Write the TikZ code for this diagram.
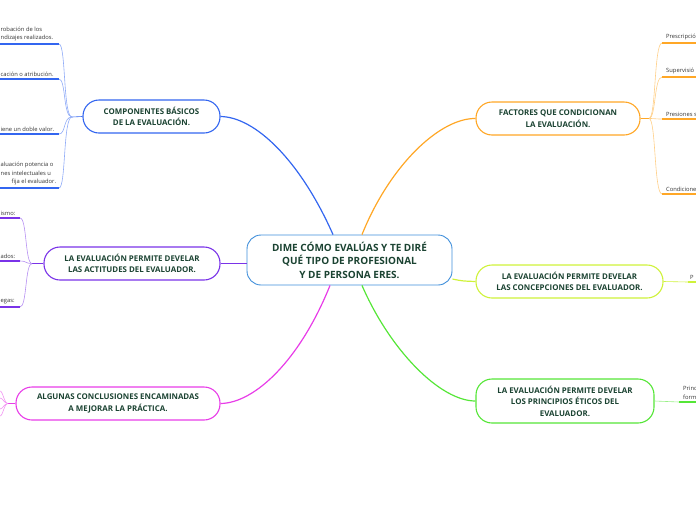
\documentclass[tikz,border=0pt]{standalone}
\usepackage{fontspec}
\setmainfont{Open Sans}
\usetikzlibrary{calc}
\definecolor{tcol}{HTML}{1B4332}
\definecolor{leafcol}{HTML}{333333}
\definecolor{cblue}{HTML}{3F8FDB}
\definecolor{bblue}{HTML}{3366F0}
\definecolor{bpurp}{HTML}{7A33E8}
\definecolor{bmag}{HTML}{E83DE8}
\definecolor{borg}{HTML}{FFA726}
\definecolor{bylw}{HTML}{CFF23A}
\definecolor{bgrn}{HTML}{55E637}
\begin{document}
\begin{tikzpicture}[x=1pt,y=-1pt,
  topic/.style={draw, rounded corners=16pt, line width=1.1pt, fill=white, text=tcol,
    font=\bfseries\fontsize{7.9}{11.5}\selectfont, align=center, inner sep=0pt},
  central/.style={draw=cblue, rounded corners=14pt, line width=0.9pt, fill=white, text=tcol,
    font=\bfseries\fontsize{10}{13.5}\selectfont, align=center, inner sep=0pt,
    minimum width=205pt, minimum height=50pt},
  conn/.style={line width=1.2pt},
  leafline/.style={line width=0.6pt},
  ul/.style={line width=1.5pt},
  leaf/.style={font=\fontsize{5.8}{8.5}\selectfont, text=leafcol, align=left, inner sep=0pt, anchor=south west}
]
\useasboundingbox (0,0) rectangle (696,520);

% central
\node[central] (c) at (349.5,260) {DIME CÓMO EVALÚAS Y TE DIRÉ\\QUÉ TIPO DE PROFESIONAL\\Y DE PERSONA ERES.};

% topics
\node[topic, draw=bblue, minimum width=137pt, minimum height=33pt] (comp) at (151.5,116.5) {COMPONENTES BÁSICOS\\DE LA EVALUACIÓN.};
\node[topic, draw=bpurp, minimum width=176pt, minimum height=33pt] (act) at (132,263.5) {LA EVALUACIÓN PERMITE DEVELAR\\LAS ACTITUDES DEL EVALUADOR.};
\node[topic, draw=bmag, minimum width=204pt, minimum height=33pt] (conc) at (118,403.5) {ALGUNAS CONCLUSIONES ENCAMINADAS\\A MEJORAR LA PRÁCTICA.};
\node[topic, draw=borg, minimum width=164pt, minimum height=33pt] (fact) at (558,118.5) {FACTORES QUE CONDICIONAN\\LA EVALUACIÓN.};
\node[topic, draw=bylw, minimum width=187pt, minimum height=33pt] (concep) at (569.5,281.5) {LA EVALUACIÓN PERMITE DEVELAR\\LAS CONCEPCIONES DEL EVALUADOR.};
\node[topic, draw=bgrn, minimum width=178pt, minimum height=44pt] (prin) at (565,401) {LA EVALUACIÓN PERMITE DEVELAR\\LOS PRINCIPIOS ÉTICOS DEL\\EVALUADOR.};

% central connectors
\draw[conn, bblue] ($(c.north)+(-16.5,0)$) .. controls (300,160) and (255,117) .. (comp.east);
\draw[conn, borg] ($(c.north)+(12.5,0)$) .. controls (390,165) and (440,118) .. (fact.west);
\draw[conn, bmag] ($(c.south)+(-19.5,0)$) .. controls (300,360) and (255,403) .. (conc.east);
\draw[conn, bgrn] ($(c.south)+(12.5,0)$) .. controls (390,350) and (440,401) .. (prin.west);
\draw[conn, bpurp] (c.west |- act.east) -- (act.east);
\draw[conn, bylw] ($(c.east)+(0,19)$) .. controls (462,281) .. (concep.west);

% ---- COMPONENTES leaves
\coordinate (cj) at (72,117);
\draw[leafline, bblue] (comp.west) -- (cj);
\coordinate (c1e) at (59,44);  \coordinate (c1s) at (0,44);
\coordinate (c2e) at (59,79);  \coordinate (c2s) at (0,79);
\coordinate (c3e) at (59,134); \coordinate (c3s) at (0,134);
\coordinate (c4e) at (59,188); \coordinate (c4s) at (0,188);
\draw[leafline, bblue!55] (cj) .. controls (63,117) and (66,44) .. (c1e);
\draw[leafline, bblue!55] (cj) .. controls (63,117) and (66,79) .. (c2e);
\draw[leafline, bblue!55] (cj) .. controls (63,117) and (66,134) .. (c3e);
\draw[leafline, bblue!55] (cj) .. controls (63,117) and (66,188) .. (c4e);
\draw[ul, bblue] (c1e) -- (c1s);
\draw[ul, bblue] (c2e) -- (c2s);
\draw[ul, bblue] (c3e) -- (c3s);
\draw[ul, bblue] (c4e) -- (c4s);
\node[leaf] (ct1) at (0.5,41.5) {robación de los\\ndizajes realizados.};
\node[leaf] (ct2) at (0.5,76.5) {cación o atribución.};
\node[leaf] (ct3) at (0.5,131.5) {iene un doble valor.};
\node[leaf] (ct4) at (0.5,185.5) {aluación potencia o\\nes intelectuales u\\\hspace*{11pt}fija el evaluador.};

% ---- ACTITUDES leaves
\coordinate (aj) at (32,263.5);
\draw[leafline, bpurp] (act.west) -- (aj);
\coordinate (a1e) at (20,218); \coordinate (a1s) at (0,218);
\coordinate (a2e) at (20,261); \coordinate (a2s) at (0,261);
\coordinate (a3e) at (20,307); \coordinate (a3s) at (0,307);
\draw[leafline, bpurp!55] (aj) .. controls (25,263.5) and (27,218) .. (a1e);
\draw[leafline, bpurp!55] (aj) .. controls (25,263.5) and (27,261) .. (a2e);
\draw[leafline, bpurp!55] (aj) .. controls (25,263.5) and (27,307) .. (a3e);
\draw[ul, bpurp] (a1e) -- (a1s);
\draw[ul, bpurp] (a2e) -- (a2s);
\draw[ul, bpurp] (a3e) -- (a3s);
\node[leaf] (at1) at (0.5,215.5) {ismo:};
\node[leaf] (at2) at (0.5,258.5) {ados:};
\node[leaf] (at3) at (0.5,304.5) {egas:};

% ---- CONCLUSIONES leaves
\coordinate (mj) at (8,403.5);
\draw[leafline, bmag] (conc.west) -- (mj);
\coordinate (m1) at (0,391); \coordinate (m2) at (0,398);
\coordinate (m3) at (0,409); \coordinate (m4) at (0,416);
\draw[leafline, bmag!55] (mj) .. controls (4,403.5) and (3,391) .. (m1);
\draw[leafline, bmag!55] (mj) .. controls (4,403.5) and (3,398) .. (m2);
\draw[leafline, bmag!55] (mj) .. controls (4,403.5) and (3,409) .. (m3);
\draw[leafline, bmag!55] (mj) .. controls (4,403.5) and (3,416) .. (m4);

% ---- FACTORES leaves
\coordinate (fj) at (649,118.5);
\draw[leafline, borg] (fact.east) -- (fj);
\coordinate (f1s) at (662,43);  \coordinate (f1e) at (696,43);
\coordinate (f2s) at (662,77);  \coordinate (f2e) at (696,77);
\coordinate (f3s) at (662,119); \coordinate (f3e) at (696,119);
\coordinate (f4s) at (662,194); \coordinate (f4e) at (696,194);
\draw[leafline, borg!55] (fj) .. controls (656,118.5) and (654,43) .. (f1s);
\draw[leafline, borg!55] (fj) .. controls (656,118.5) and (654,77) .. (f2s);
\draw[leafline, borg!55] (fj) .. controls (656,118.5) and (654,119) .. (f3s);
\draw[leafline, borg!55] (fj) .. controls (656,118.5) and (654,194) .. (f4s);
\draw[ul, borg] (f1s) -- (f1e);
\draw[ul, borg] (f2s) -- (f2e);
\draw[ul, borg] (f3s) -- (f3e);
\draw[ul, borg] (f4s) -- (f4e);
\node[leaf] (ft1) at (666,40.5) {Prescripció};
\node[leaf] (ft2) at (666,74.5) {Supervisió};
\node[leaf] (ft3) at (666,116.5) {Presiones s};
\node[leaf] (ft4) at (666,191.5) {Condicione};

% ---- CONCEPCIONES leaf
\coordinate (p1s) at (688,282); \coordinate (p1e) at (696,282);
\draw[leafline, bylw] (concep.east) -- (p1s);
\draw[ul, bylw] (p1s) -- (p1e);
\node[leaf] (pt1) at (690,279.5) {P};

% ---- PRINCIPIOS leaf
\coordinate (e1s) at (679,402); \coordinate (e1e) at (696,402);
\draw[leafline, bgrn!60] (prin.east) -- (e1s);
\draw[ul, bgrn] (e1s) -- (e1e);
\node[leaf] (et1) at (683,399.5) {Princ\\form};
\end{tikzpicture}
\end{document}
